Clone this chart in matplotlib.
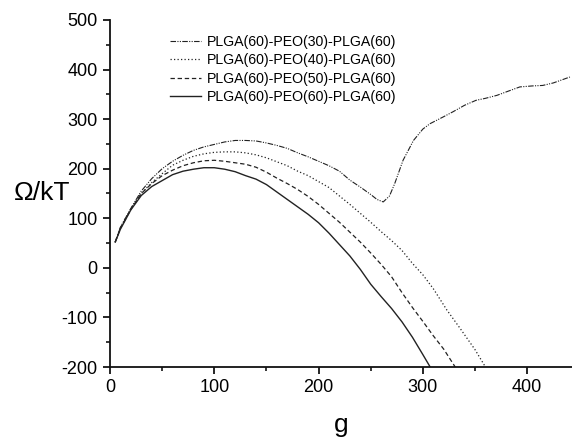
import matplotlib
matplotlib.use("Agg")
import matplotlib.pyplot as plt
from matplotlib.ticker import MultipleLocator

plt.rcParams['font.family'] = ['Liberation Sans', 'DejaVu Sans']
plt.rcParams['axes.unicode_minus'] = False

# free energy curves, omega/kT vs aggregation number g
g_peo30 = [5, 10, 20, 30, 40, 50, 60, 70, 80, 90, 100, 110, 120, 130, 140, 150,
           160, 170, 180, 190, 200, 210, 220, 230, 240, 250, 256, 262, 268, 273,
           281, 291, 300, 307, 320, 329, 340, 351, 360, 371, 380, 393, 405, 415,
           425, 441]
w_peo30 = [52, 82, 120, 155, 180, 200, 215, 227, 237, 244, 249, 254, 257, 257,
           256, 252, 247, 241, 232, 224, 215, 206, 195, 177, 163, 148, 138, 133,
           145, 170, 217, 257, 280, 291, 305, 315, 328, 338, 342, 348, 355, 365,
           367, 368, 373, 385]

g_peo40 = [5, 10, 20, 30, 40, 50, 60, 70, 80, 90, 100, 110, 120, 130, 140, 150,
           160, 170, 180, 190, 200, 210, 220, 230, 240, 250, 260, 270, 280, 290,
           300, 310, 323, 335, 350, 360]
w_peo40 = [52, 81, 119, 150, 172, 190, 207, 217, 225, 230, 233, 234, 234, 232,
           228, 222, 214, 206, 195, 186, 174, 162, 145, 128, 110, 92, 73, 55, 35,
           9, -14, -42, -85, -120, -165, -200]

g_peo50 = [5, 10, 20, 30, 40, 50, 60, 70, 80, 90, 100, 110, 120, 130, 140, 150,
           160, 170, 180, 190, 200, 210, 220, 230, 240, 250, 260, 270, 280, 290,
           300, 310, 320, 331]
w_peo50 = [52, 80, 118, 150, 170, 186, 197, 206, 212, 216, 217, 215, 212, 209,
           203, 193, 181, 170, 158, 144, 128, 110, 92, 72, 52, 30, 7, -18, -50,
           -80, -108, -137, -164, -200]

g_peo60 = [5, 10, 20, 30, 40, 50, 60, 70, 80, 90, 100, 110, 120, 130, 140, 150,
           160, 170, 180, 190, 200, 210, 220, 230, 240, 250, 260, 270, 280, 290,
           300, 307]
w_peo60 = [52, 78, 117, 146, 164, 176, 188, 195, 199, 202, 202, 199, 194, 186,
           179, 168, 153, 138, 123, 108, 91, 70, 47, 24, -3, -33, -58, -82, -109,
           -140, -175, -200]

labels = ["PLGA(60)-PEO(30)-PLGA(60)", "PLGA(60)-PEO(40)-PLGA(60)",
          "PLGA(60)-PEO(50)-PLGA(60)", "PLGA(60)-PEO(60)-PLGA(60)"]

W, H = 572, 438
fig = plt.figure(figsize=(W / 100, H / 100), dpi=100)
ax = fig.add_axes([110 / W, 1 - 367 / H, 1 - 110 / W, (367 - 20) / H])

lc = '#222222'
ax.plot(g_peo30, w_peo30, color=lc, lw=0.8, dashes=(5, 1.2, 1, 1.2, 1, 1.2), label=labels[0])
ax.plot(g_peo40, w_peo40, color=lc, lw=0.9, dashes=(1, 1.8), label=labels[1])
ax.plot(g_peo50, w_peo50, color=lc, lw=0.9, dashes=(3.5, 2.2), label=labels[2])
ax.plot(g_peo60, w_peo60, color=lc, lw=1.0, label=labels[3])

ax.set_xlim(0, 443)
ax.set_ylim(-200, 500)
ax.xaxis.set_major_locator(MultipleLocator(100))
ax.xaxis.set_minor_locator(MultipleLocator(50))
ax.yaxis.set_major_locator(MultipleLocator(100))
ax.yaxis.set_minor_locator(MultipleLocator(50))

for side in ['top', 'right']:
    ax.spines[side].set_visible(False)
for side in ['left', 'bottom']:
    ax.spines[side].set_linewidth(1.3)
    ax.spines[side].set_color('#111111')

ax.tick_params(which='major', direction='out', length=5, width=1.2, labelsize=13, pad=4)
ax.tick_params(which='minor', direction='out', length=3, width=1.1)

ax.set_xlabel("g", fontsize=19, labelpad=12)
fig.text(42 / W, 1 - 193 / H, "Ω/kT", fontsize=19, ha='center', va='center')

ax.legend(loc='upper left', bbox_to_anchor=(170 / W, 1 - 35 / H),
          bbox_transform=fig.transFigure, frameon=False, fontsize=10.2,
          handlelength=2.2, handletextpad=0.4, labelspacing=0.3,
          borderpad=0, borderaxespad=0)

fig.savefig("out.png", dpi=100)
